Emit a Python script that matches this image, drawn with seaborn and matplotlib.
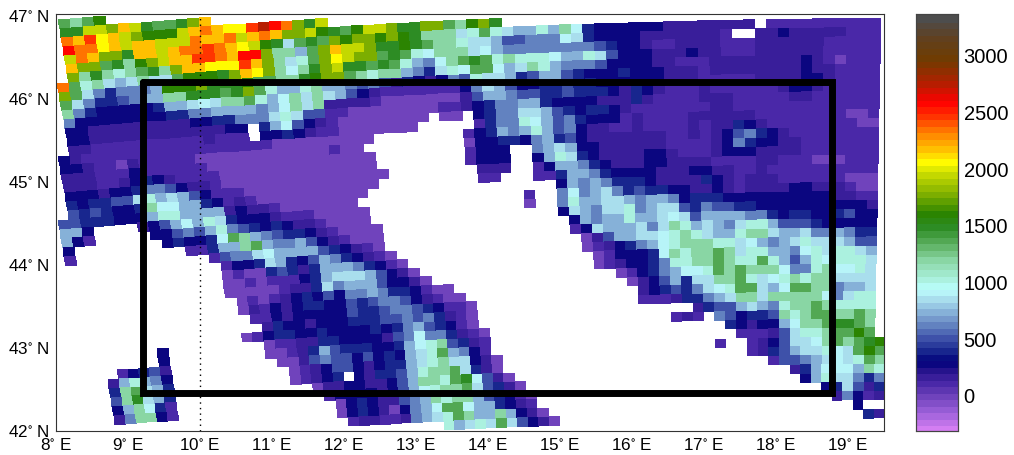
import numpy as np
import matplotlib
matplotlib.use("Agg")
import matplotlib.pyplot as plt
from matplotlib.colors import LinearSegmentedColormap
from matplotlib.transforms import Transform
import seaborn as sns

sns.set_style("white")
plt.rcParams['font.family'] = ['Liberation Sans', 'DejaVu Sans']
plt.rcParams['mathtext.default'] = 'regular'

# Elevation class of each letter, read against the colour bar (metres)
LEVELS = dict(A=30, B=110, C=190, D=310, E=420, F=510, G=620, H=760, I=870, J=950,
              K=1060, L=1210, M=1360, N=1500, O=1640, P=1800, Q=1980, R=2080,
              S=2200, T=2350, U=2500, V=2620, W=2750)

west = [
    "...MLMO",
    "...NNQQPSQNMMNPS",
    "...TSURSQPOOOQSTSRRUWVTPN",
    "...VTTRSQSSQQQTSSTQSTSPPQ",
    "...QTSPPNSSQSTTUTSRQONIMN",
    "...SPPMNLOPQSSUUTSVVPLLHM",
    "...PLNLKLMNLPSSRRRUSPLIKM",
    "..TMKLIHILIIMOOONPSRPLJLN",
    "..PMIGEGGGHOOOPNNNOMMLLNO",
    "..MIGEEFGHHLLNNNMNPMKHHKL",
    "..LGEDDDDDEHHIJILLMKHJLIL",
    "..GDDDDDDDDEEGGHHHHGHJLIL",
    "..DDCCCCCCCCCDDEEGGGIKIFF",
    "..DDCCCCCCCCCCCCDD.EHJFDC",
    "..CCBBBBBBBBBBCBBB.DDEDCB",
    ".DCBBBBBBBBBBBBBBBBBAAAAA",
    ".DDCBBACBBBBBAAAAAAAAAAAA",
    ".CCCBBBDBBBBBBAAAAAAAAAAA",
    ".CCCBBCDEDCBBBBAAAAAAAAAA",
    ".DDDCDDEGGFDCCBAAAAAAAAAA",
    ".EDEEFFIKHIHFDBBBAAAAAAAA",
    ".FEFEDDELJJHHEDBCBAAAAAAA",
    "FFEEEDDDHKKHHHHCDCCBAAAAA",
    "HHD....CDFHJHKIEDDDCBBBAA",
    "HDB.....DDFGFHKGFEDEDCCBA",
    "D........DEDDEJMLHGFEEDCB",
    "B..........BBEHHLMHGGHFDC",
    "." * 13 + "BFGGIJHHHHFE",
    "." * 14 + "BDDEIHEDFHG",
    "." * 14 + "ABAAEFECEHH",
    "." * 14 + "AABABBBDEHI",
    "." * 14 + "AAAAABCCEIG",
    "." * 15 + "ABABCDEDFD",
    "." * 15 + "ACBDCDEEDD",
    "." * 16 + "BBDCDDDDD",
    "." * 17 + "CEDDCDDD",
    "." * 15 + "ABDEEDDEDD",
    "." * 7 + "D" + "." * 9 + "ABBCCEED",
    "." * 7 + "D" + "." * 9 + "AABCEHFE",
    "..." + "BDEFC" + "." * 10 + "AACFGFF",
    ".." + "CHKHGD" + "." * 11 + "ABCDFF",
    ".." + "ELMIHE" + "." * 11 + "ABCDE.",
    ".." + "FLNIHE" + "." * 13 + "ACCD",
    ".." + "DHLJEB" + "." * 14 + "BDD",
    ".." + "CGLLDB" + "." * 15 + "AD",
    "." * 23 + "AD",
    "." * 24 + "B",
    "",
]

central = [
    "", "", "Q",
    "ONMOQQPNNPPMLOPN",
    "MPOPPOPONLLLIKMKIHHKHLJEDD",
    "PSQQPNNONMLLKIIHFFGGGJIEDD",
    "PRQPPMNMKJLLLIJHGGGGGGGGFE",
    "PQNNMNMKHGJLMNMKLKKKJHHKIF",
    "PPMLKLLHGEIKJMMJHILKHGGGFD",
    "HHGFGFCEDCDGFKIIHEFHHFEDDD",
    "IHFDCBBBBBBBDGIHFDDEEFEEDD",
    "CCCCBAAAAAAACFHHGFFEEFEEED",
    "BBAAAAAAAABBCDEGGHHEDDDDCC",
    "BAAAAAAAA.AA.DEGGIIHFEDEED",
    "BAAAAAAA.....BEGGKJHFGEDDD",
    "AAAA" + "." * 8 + "BDEHGHKHFGDCCB",
    "BAA" + "." * 9 + "ADDEEDGHEFDCCC",
    "AAAA" + "." * 8 + "BDDD..GHIHDDCC",
    "AAAA" + "." * 8 + "BDDD..DHKIEDCC",
    "AAAAA" + "." * 8 + "CCC..BDHHGEDC",
    "AAAA" + "." * 9 + "BB...BBEHHGED",
    "AAA" + "." * 17 + "DHGHGE",
    "AA" + "." * 15 + "B..GJGHIG",
    "AAA" + "." * 14 + "A..GKHHII",
    "AAA" + "." * 17 + "DIHGII",
    "AAAA" + "." * 17 + "DHGHH",
    "BAAA" + "." * 17 + "BDIHH",
    "DCBA" + "." * 18 + "ACFH",
    "EDCBA" + "." * 17 + "ABCD",
    "HGEDBA" + "." * 17 + "ABD",
    "IIHFDCA" + "." * 16 + "ABC",
    "HHHFDDCA" + "." * 17 + "A",
    "GGHGEEDBAA",
    "FEFGGFDCBAA",
    "FEEFGGFEDBBA",
    "EEEFFGFGECBA",
    "DDEDEGHFEDBA",
    "DDDCFGJGGECBA",
    "EEDDEHJKLFECB",
    "DFDEDHIKMHGDB",
    "DCDEEHIKLIIDCA",
    "DCEEFHKLLMIECA",
    "DCCDFHLLKMNJFCA",
    "DDCDFHJKLLMIFECA",
    "EDCCFGHLKLLHFEDBA",
    "EDCADGHJMMJHHEDCB",
    "CCBBCGHIKMLHHLHDCA",
    "." * 8 + "KHIKIMIFDCA",
]

east = [
    "", "", "", "",
    "DDDDCCCCCCCC.BBBBBBBBBB",
    "DDCCCCCCCB..CCDCCCCCBBB",
    "DDCBBCCCCBBBCCCCCCBBBBB",
    "DDDCCCDCCBBBCCCCCCBBBBB",
    "DDDCCBBBCCCCCCCCDCBABBB",
    "EDDDCCCBCCCCCCCCDCCBBBB",
    "DDDDCCCBBBBBCCCCDDCBBBB",
    "CEDCBBBCBBBBBBCDDCBBBBB",
    "CECBBBBCCCBBBBBCCBBBBBB",
    "CBBBBBBBCCBBBBBBBBBBBBB",
    "BCBBBBCCCCCCBBBBBBBBAAB",
    "BCBBBBCBCCEDCBBBBBBBBAA",
    "CCCCBBCBCDFGEDCBBBBBBBB",
    "CCCCBBBBCDGEDDCCBBBBBBB",
    "CCDDCBBBCDDDCCCCBBBBBBB",
    "CCDDCCCCBBBBCCBBBAAABBB",
    "DDDCCCDDCCBBCBBBBBBBBBB",
    "EEDCCCCEDCBCCCBBBBBBAAA",
    "EFEEDDCCDCBCCCCDDCCCBAA",
    "HGHHGDEEEDDDDDDDDDDCCBB",
    "KGHIIFEGFFEEDDDDDDDDDDC",
    "KHHIJIFHHHHGGEDEEDDEFDD",
    "HIGILKHIHGIKKHFFFEDDDDD",
    "HIIJKLKIHHKLLIHHIGGHGEE",
    "EGHJKLLLKKIJHGHIKIIIHFF",
    "DDEJLKLLMLIKKHHGJKIKKIH",
    "DDEGKKLLMLKKMKHFHKJKKKI",
    "BDEGHJJKMLMLLLJGGKLJJKI",
    "ACDFHEIILLMKIJKLKLLIIII",
    ".CDEFEGIJKMMIHJMMLLGHHI",
    ".BBBCEEGHILLILLLLLJGIKK",
    "......CEFFHIHGKLLMLKKKK",
    "....BCB.GFDEEFLKLMMLLML",
    ".........EDCDDHJLLMNNML",
    "..........BBBCFIKKLMMOM",
    "........B..BCDFIIJLMLMNO",
    "...........BCEFHIIKJIMOM",
    "............." + "BFFGHIJIKML",
    "." * 15 + "CEHJJJHLK",
    "." * 16 + "DHKIIGEG",
    "." * 18 + "DEIFCE",
    "." * 19 + "CGDBC",
    "." * 21 + "D",
    "." * 22 + "EC",
]

lat_ticks = [47, 46, 45, 44, 43, 42]
lon_ticks = list(range(8, 20))
bar_ticks = [0, 500, 1000, 1500, 2000, 2500, 3000]
box_lons = [9.215, 18.78, 18.78, 9.215, 9.215]
box_lats = [46.21, 46.21, 42.46, 42.46, 46.21]
dotted_lon = 10

V_MIN, V_MAX = -309, 3367
anchors = [(-309, "#d47ef2"), (-150, "#9a5fd8"), (0, "#6a3fb8"), (100, "#4a28a8"),
           (200, "#2c1790"), (300, "#00007a"), (400, "#1a2a90"), (500, "#3c4ea8"),
           (600, "#5a78bb"), (700, "#7aa0d0"), (800, "#98c8e4"), (900, "#b5eef4"),
           (950, "#baffff"), (1050, "#a8eed8"), (1200, "#8cd8a8"), (1350, "#5cb060"),
           (1500, "#2d8c24"), (1620, "#2b8400"), (1800, "#80b000"), (2000, "#d0e000"),
           (2075, "#ffff00"), (2200, "#ffc000"), (2350, "#ff8000"), (2500, "#ff3000"),
           (2620, "#ff0000"), (2800, "#b02000"), (3000, "#703c00"), (3200, "#604020"),
           (3367, "#4d4d4d")]
cmap = LinearSegmentedColormap.from_list(
    "relief", [((v - V_MIN) / (V_MAX - V_MIN), c) for v, c in anchors]).resampled(64)

rows = [w.ljust(25, ".")[:25] + c.ljust(26, ".")[:26] + e.ljust(24, ".")[:24]
        for w, c, e in zip(west, central, east)]
grid = np.array([[LEVELS.get(ch, np.nan) for ch in r] for r in rows], dtype=float)

W, H = 1014, 455
L, R, T, B = 55.5, 884.0, 14.0, 431.0
LON_PER_PX = 1 / 72.0
LAT_PER_PX = 1 / 83.0


class MapGrid(Transform):
    """Curved model grid (column, row) to longitude, latitude."""
    input_dims = 2
    output_dims = 2
    is_separable = False
    has_inverse = False

    def transform_non_affine(self, values):
        values = np.asarray(values, dtype=float)
        c = values[:, 0] - 2
        j = values[:, 1]
        x = 46.7 + 11.6 * c + (0.168 - 0.0026 * c) * 9.1 * j
        u = x - 56.0
        y = 20.7 + 9.1 * j - 0.09 * u + 0.085 * u * u / (2 * 822)
        return np.column_stack([8 + (x - L) * LON_PER_PX, 42 + (B - y) * LAT_PER_PX])


fig = plt.figure(figsize=(W / 100, H / 100), dpi=100)
ax = fig.add_axes([L / W, 1 - B / H, (R - L) / W, (B - T) / H])
cax = fig.add_axes([916 / W, 1 - B / H, 42 / W, (B - T) / H])

sns.heatmap(grid, ax=ax, cbar_ax=cax, cmap=cmap, vmin=V_MIN, vmax=V_MAX,
            mask=np.isnan(grid), xticklabels=False, yticklabels=False,
            cbar_kws={"ticks": bar_ticks})
mesh = ax.collections[0]
mesh.set_transform(MapGrid() + ax.transData)
mesh.set_antialiased(False)

ax.set_xlim(8, 8 + (R - L) * LON_PER_PX)
ax.set_ylim(42, 42 + (B - T) * LAT_PER_PX)
ax.set_aspect("auto")
ax.plot([dotted_lon, dotted_lon], [42, 42 + (B - T) * LAT_PER_PX], color="black", lw=1,
        ls=(0, (1, 3)), zorder=3)
ax.plot(box_lons, box_lats, color="black", lw=5.0, solid_joinstyle="miter", zorder=4)

ax.set_xticks(lon_ticks)
ax.set_xticklabels([f"{v}$^{{\\circ}}$ E" for v in lon_ticks], fontsize=12.3)
ax.set_yticks(lat_ticks)
ax.set_yticklabels([f"{v}$^{{\\circ}}$ N" for v in lat_ticks], fontsize=12.3)
ax.tick_params(axis="x", length=0, pad=4, colors="black")
ax.tick_params(axis="y", length=0, pad=4, colors="black")
for s in ax.spines.values():
    s.set_visible(True)
    s.set_color("#333333")
    s.set_linewidth(0.8)

cax.tick_params(axis="y", which="both", left=True, right=True, direction="in", length=3.5,
                width=0.8, labelsize=14.5, pad=4, colors="black")
for s in cax.spines.values():
    s.set_visible(True)
    s.set_color("#444444")
    s.set_linewidth(0.8)
cax.collections[-1].set_edgecolor("face")

fig.savefig("out.png", dpi=100)
